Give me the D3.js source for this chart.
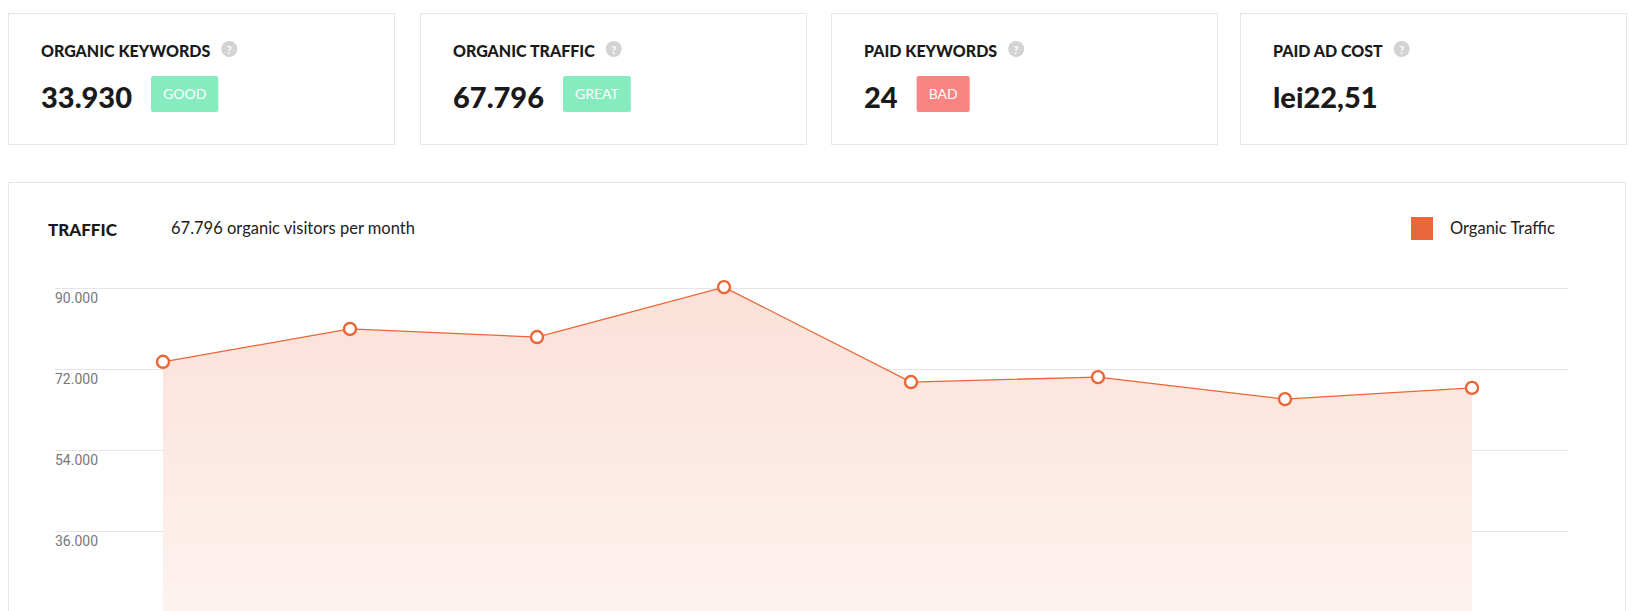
<!DOCTYPE html>
<html><head><meta charset="utf-8">
<script src="https://cdn.jsdelivr.net/npm/d3@7"></script>
<style>body{margin:0;background:#fff;overflow:hidden}svg{display:block}</style>
</head><body>
<svg id="c" width="1639" height="611"></svg>
<script>
const cardTitles = ["ORGANIC KEYWORDS","ORGANIC TRAFFIC","PAID KEYWORDS","PAID AD COST"];
const cardValues = ["33.930","67.796","24","lei22,51"];
const cardBadges = ["GOOD","GREAT","BAD",null];
const months = ["m1","m2","m3","m4","m5","m6","m7","m8"];
const traffic = [73600,80900,79100,90200,69100,70200,65300,67800];
const yTicks = [36000,54000,72000,90000];
const yTickLabels = ["36.000","54.000","72.000","90.000"];

const svg = d3.select("#c");
const ff = "Lato, 'Open Sans', sans-serif";
const badgeColor = {GOOD:"#86ecc0",GREAT:"#86ecc0",BAD:"#fa8383"};
const cardX = [8,420,831,1240], cardW = 386;
cardTitles.forEach((t,i)=>{
  const g = svg.append("g").attr("transform",`translate(${cardX[i]},13)`);
  g.append("rect").attr("x",0.5).attr("y",0.5).attr("width",cardW).attr("height",131).attr("fill","#fff").attr("stroke","#e6e6ea");
  const tt = g.append("text").attr("x",33).attr("y",44).attr("font-family",ff).attr("font-weight",900).attr("font-size",16).attr("fill","#1a1a1a").text(t);
  const w = tt.node().getComputedTextLength();
  g.append("circle").attr("cx",33+w+19).attr("cy",36).attr("r",8).attr("fill","#d3d3d3");
  g.append("text").attr("x",33+w+19).attr("y",40.5).attr("text-anchor","middle").attr("font-family",ff).attr("font-size",11).attr("font-weight",700).attr("fill","#fff").text("?");
  const vt = g.append("text").attr("x",33).attr("y",95).attr("font-family",ff).attr("font-weight",900).attr("font-size",29).attr("fill","#1a1a1a").text(cardValues[i]);
  const vw = vt.node().getComputedTextLength();
  if(cardBadges[i]){
    const b = cardBadges[i];
    const bt = g.append("text").attr("font-family",ff).attr("font-size",14).text(b);
    const bw = bt.node().getComputedTextLength()+24;
    bt.remove();
    g.append("rect").attr("x",33+vw+19).attr("y",63).attr("width",bw).attr("height",36).attr("rx",2).attr("fill",badgeColor[b]);
    g.append("text").attr("x",33+vw+19+bw/2).attr("y",86).attr("text-anchor","middle").attr("font-family",ff).attr("font-size",14).attr("fill","#fff").text(b);
  }
});

svg.append("rect").attr("x",8.5).attr("y",182.5).attr("width",1617).attr("height",460).attr("fill","#fff").attr("stroke","#e6e6ea");
svg.append("text").attr("x",48).attr("y",236).attr("font-family",ff).attr("font-weight",900).attr("font-size",17).attr("fill","#1a1a1a").text("TRAFFIC");
svg.append("text").attr("x",171).attr("y",234).attr("font-family",ff).attr("font-size",16.5).attr("fill","#222").text("67.796 organic visitors per month");
svg.append("rect").attr("x",1411).attr("y",217).attr("width",22).attr("height",23).attr("fill","#eb663a");
svg.append("text").attr("x",1450).attr("y",234).attr("font-family",ff).attr("font-size",16.5).attr("fill","#222").text("Organic Traffic");

const x = d3.scalePoint().domain(months).range([163,1472]);
const y = d3.scaleLinear().domain([0,90000]).range([693,288]);

const defs = svg.append("defs");
const gr = defs.append("linearGradient").attr("id","gf").attr("gradientUnits","userSpaceOnUse")
  .attr("x1",0).attr("x2",0).attr("y1",288).attr("y2",693);
gr.append("stop").attr("offset",0).attr("stop-color","#fbddd3");
gr.append("stop").attr("offset",1).attr("stop-color","#fef6f4");

const grid = svg.append("g").attr("transform","translate(55,0)")
  .call(d3.axisRight(y).tickValues(yTicks).tickSize(1568-55).tickFormat(d=>yTickLabels[yTicks.indexOf(d)]));
grid.select(".domain").remove();
grid.selectAll("line").attr("stroke","#e4e4ea");
grid.selectAll("text").attr("x",0).attr("dy",14).attr("font-family","Roboto, sans-serif").attr("font-size",14).attr("fill","#777");

const data = months.map((m,i)=>({m,v:traffic[i]}));
svg.append("path").datum(data).attr("fill","url(#gf)").attr("opacity",0.9)
  .attr("d",d3.area().x(d=>x(d.m)).y0(y(0)).y1(d=>y(d.v)));
svg.append("path").datum(data).attr("fill","none").attr("stroke","#ec6535").attr("stroke-width",1.3)
  .attr("d",d3.line().x(d=>x(d.m)).y(d=>y(d.v)));
svg.selectAll(".pt").data(data).join("circle").attr("cx",d=>x(d.m)).attr("cy",d=>y(d.v)).attr("r",6)
  .attr("fill","#fff").attr("stroke","#ec6535").attr("stroke-width",2.4);
</script></body></html>
